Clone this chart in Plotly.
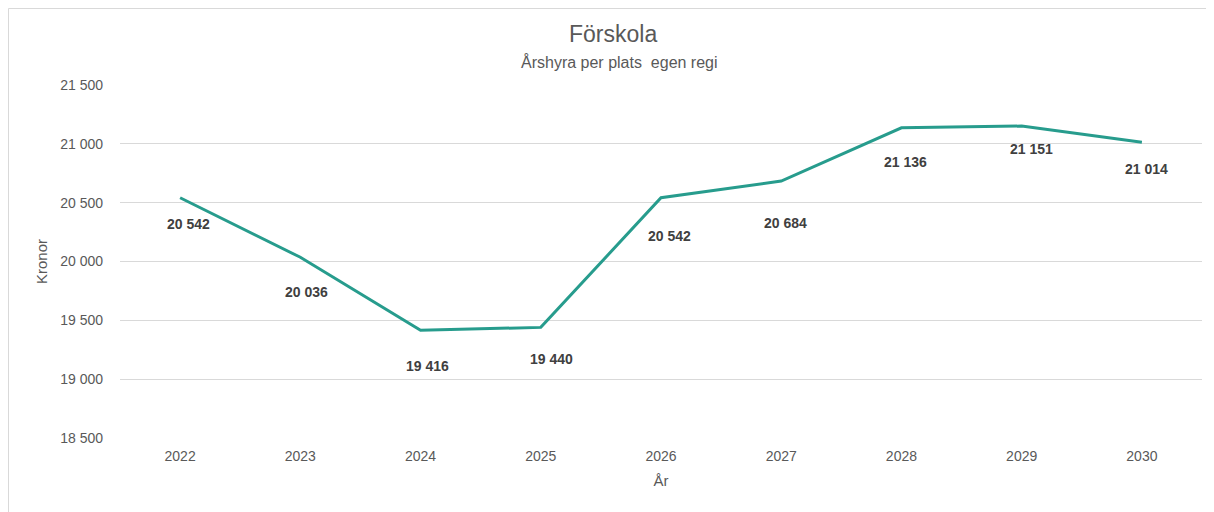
import plotly.graph_objects as go

years = ["2022", "2023", "2024", "2025", "2026", "2027", "2028", "2029", "2030"]
values = [20542, 20036, 19416, 19440, 20542, 20684, 21136, 21151, 21014]
y_ticks = [18500, 19000, 19500, 20000, 20500, 21000, 21500]

# label placement (pixels right / below each point), as in the original
label_dx = [8, 6, 7, 11, 8, 4, 4, 10, 5]
label_dy = [26, 35, 36, 32, 38, 42, 34, 23, 27]

def fmt(v):
    return f"{v:,}".replace(",", " ")

W, H = 1214, 512
L, R, T, B = 112, 20, 77, 82
PW, PH = W - L - R, H - T - B

fig = go.Figure()
fig.add_trace(go.Scatter(
    x=years, y=values, mode="lines",
    line=dict(color="#279C8D", width=3),
    hoverinfo="skip", showlegend=False,
))

# category axis: annotation x uses the category serial index
annotations = [
    dict(x=i, y=v, xref="x", yref="y", text="<b>" + fmt(v) + "</b>",
         showarrow=False, yshift=-dy, xshift=dx, yanchor="middle",
         font=dict(family="Liberation Sans, Arial", size=14, color="#404040"))
    for i, (v, dx, dy) in enumerate(zip(values, label_dx, label_dy))
]
annotations += [
    dict(text="Förskola", xref="paper", yref="paper", x=(605 - L) / PW,
         y=1 + (T - 26) / PH, showarrow=False,
         font=dict(size=23, color="#595959"), yanchor="middle"),
    dict(text="Årshyra per plats&nbsp; egen regi", xref="paper", yref="paper",
         x=(611 - L) / PW, y=1 + (T - 54) / PH, showarrow=False,
         font=dict(size=16, color="#595959"), yanchor="middle"),
]

fig.update_layout(
    width=W, height=H,
    margin=dict(l=L, r=R, t=T, b=B),
    paper_bgcolor="white", plot_bgcolor="white",
    font=dict(family="Liberation Sans, Arial", color="#595959"),
    xaxis=dict(
        type="category", range=[-0.5, len(years) - 0.5],
        showgrid=False, showline=False, ticks="", zeroline=False,
        tickfont=dict(size=14, color="#595959"),
        ticklabelstandoff=8,
        title=dict(text="År", font=dict(size=15, color="#595959"), standoff=12),
    ),
    yaxis=dict(
        range=[18500, 21500], tickvals=y_ticks,
        ticktext=[fmt(v) for v in y_ticks],
        showgrid=True, gridcolor="#D9D9D9", gridwidth=1,
        zeroline=False, showline=False, ticks="",
        tickfont=dict(size=14, color="#595959"),
        ticklabelstandoff=16,
        title=dict(text="Kronor", font=dict(size=15, color="#595959"), standoff=8),
    ),
    shapes=[dict(type="rect", xref="paper", yref="paper",
                 x0=-(L - 0.5) / PW, x1=1 + (R + 10) / PW,
                 y0=-(B + 10) / PH, y1=1 + (T - 0.5) / PH,
                 line=dict(color="#D9D9D9", width=1), layer="below")],
    annotations=annotations,
)

fig.write_html("out.html")
